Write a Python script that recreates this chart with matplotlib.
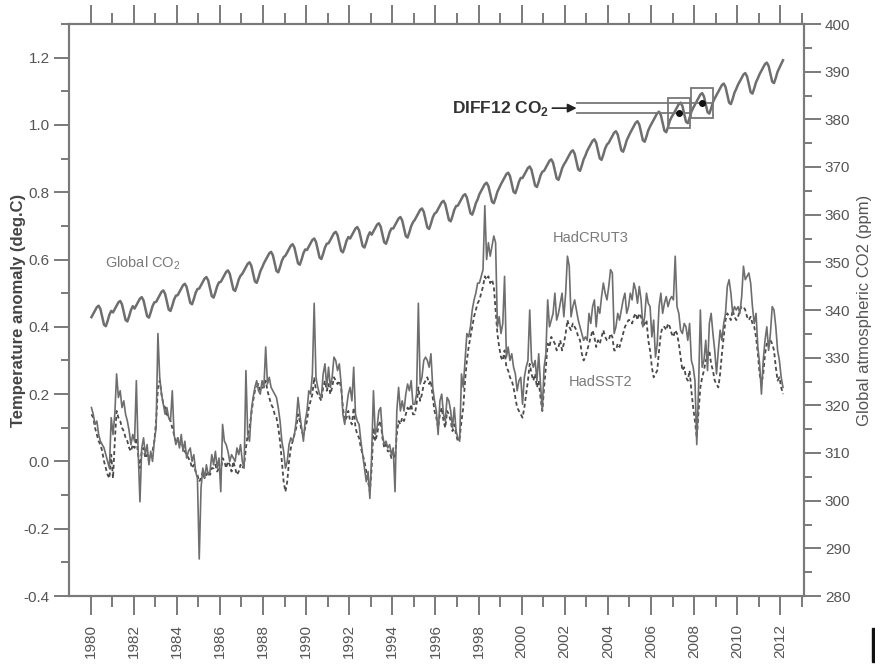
import numpy as np
import matplotlib
matplotlib.use("Agg")
import matplotlib.pyplot as plt
from matplotlib.patches import Rectangle

plt.rcParams['font.family'] = ['Liberation Sans', 'DejaVu Sans']
plt.rcParams['mathtext.fontset'] = 'custom'
plt.rcParams['mathtext.rm'] = 'Liberation Sans'
plt.rcParams['mathtext.bf'] = 'Liberation Sans:bold'

# ---- monthly data, one row per year (Jan..Dec), 1980 .. early 2012 ----
start_year = 1980

hadcrut3 = [
    [0.16, 0.14, 0.11, 0.12, 0.08, 0.06, 0.05, 0.04, 0.02, 0.00, -0.02, 0.13],
    [0.08, 0.14, 0.26, 0.19, 0.21, 0.16, 0.18, 0.14, 0.12, 0.09, 0.05, 0.08],
    [0.06, 0.24, 0.03, -0.12, 0.04, 0.07, 0.02, 0.05, -0.01, 0.03, 0.00, 0.06],
    [0.10, 0.38, 0.25, 0.20, 0.17, 0.14, 0.16, 0.13, 0.12, 0.21, 0.08, 0.05],
    [0.07, 0.04, 0.08, 0.03, 0.06, 0.01, 0.03, 0.04, 0.00, 0.02, -0.03, -0.05],
    [-0.29, -0.08, -0.02, -0.05, -0.01, -0.04, -0.03, 0.02, -0.01, 0.03, -0.02, 0.01],
    [-0.09, 0.11, 0.06, 0.05, 0.03, 0.00, 0.02, 0.01, 0.00, 0.04, 0.02, 0.05],
    [0.00, -0.02, 0.27, 0.08, 0.06, 0.15, 0.19, 0.22, 0.24, 0.21, 0.20, 0.24],
    [0.22, 0.34, 0.23, 0.25, 0.22, 0.21, 0.20, 0.19, 0.16, 0.12, 0.06, 0.03],
    [-0.02, 0.00, 0.05, 0.07, 0.06, 0.08, 0.12, 0.19, 0.14, 0.10, 0.06, 0.12],
    [0.15, 0.21, 0.20, 0.26, 0.47, 0.25, 0.22, 0.20, 0.19, 0.26, 0.29, 0.22],
    [0.28, 0.22, 0.25, 0.31, 0.30, 0.27, 0.29, 0.23, 0.14, 0.11, 0.16, 0.20],
    [0.22, 0.18, 0.28, 0.14, 0.12, 0.11, 0.06, 0.02, -0.02, -0.06, -0.03, -0.11],
    [0.02, 0.21, 0.08, 0.10, 0.15, 0.16, 0.08, 0.05, 0.06, 0.04, 0.05, 0.02],
    [0.04, -0.09, 0.15, 0.22, 0.15, 0.18, 0.15, 0.20, 0.23, 0.21, 0.24, 0.17],
    [0.17, 0.20, 0.47, 0.23, 0.25, 0.30, 0.31, 0.30, 0.28, 0.32, 0.22, 0.18],
    [0.15, 0.08, 0.18, 0.20, 0.14, 0.12, 0.19, 0.18, 0.15, 0.10, 0.16, 0.09],
    [0.07, 0.06, 0.26, 0.22, 0.30, 0.38, 0.37, 0.40, 0.45, 0.48, 0.50, 0.53],
    [0.53, 0.55, 0.57, 0.76, 0.60, 0.65, 0.61, 0.64, 0.67, 0.65, 0.40, 0.43],
    [0.38, 0.41, 0.55, 0.31, 0.34, 0.30, 0.32, 0.28, 0.26, 0.21, 0.24, 0.25],
    [0.17, 0.25, 0.28, 0.30, 0.45, 0.30, 0.28, 0.30, 0.24, 0.32, 0.23, 0.15],
    [0.28, 0.32, 0.48, 0.40, 0.42, 0.44, 0.50, 0.42, 0.44, 0.47, 0.50, 0.43],
    [0.50, 0.61, 0.58, 0.43, 0.46, 0.48, 0.45, 0.42, 0.40, 0.38, 0.36, 0.37],
    [0.36, 0.44, 0.41, 0.46, 0.48, 0.40, 0.46, 0.44, 0.49, 0.53, 0.50, 0.48],
    [0.52, 0.57, 0.56, 0.38, 0.40, 0.44, 0.42, 0.45, 0.48, 0.50, 0.44, 0.46],
    [0.50, 0.48, 0.53, 0.51, 0.47, 0.52, 0.48, 0.40, 0.43, 0.50, 0.47, 0.46],
    [0.37, 0.42, 0.31, 0.35, 0.46, 0.50, 0.44, 0.47, 0.49, 0.46, 0.48, 0.49],
    [0.48, 0.61, 0.46, 0.44, 0.39, 0.38, 0.41, 0.40, 0.36, 0.41, 0.30, 0.28],
    [0.24, 0.05, 0.22, 0.45, 0.28, 0.30, 0.36, 0.27, 0.41, 0.44, 0.38, 0.33],
    [0.26, 0.33, 0.39, 0.36, 0.41, 0.44, 0.52, 0.54, 0.50, 0.44, 0.46, 0.45],
    [0.46, 0.44, 0.49, 0.58, 0.54, 0.55, 0.56, 0.53, 0.46, 0.41, 0.44, 0.34],
    [0.29, 0.20, 0.30, 0.36, 0.40, 0.33, 0.38, 0.46, 0.45, 0.40, 0.33, 0.30],
    [0.25, 0.22],
]

hadsst2 = [
    [0.14, 0.13, 0.10, 0.08, 0.06, 0.05, 0.03, 0.00, -0.02, -0.04, -0.05, 0.02],
    [-0.05, 0.06, 0.15, 0.13, 0.12, 0.10, 0.09, 0.07, 0.06, 0.04, 0.03, 0.05],
    [0.04, 0.07, 0.02, -0.02, 0.03, 0.04, 0.01, 0.02, 0.00, 0.02, 0.03, 0.06],
    [0.12, 0.22, 0.24, 0.20, 0.17, 0.16, 0.14, 0.13, 0.12, 0.10, 0.08, 0.06],
    [0.07, 0.05, 0.06, 0.04, 0.03, 0.02, 0.01, 0.00, -0.02, -0.01, -0.03, -0.04],
    [-0.06, -0.05, -0.03, -0.05, -0.04, -0.03, -0.04, -0.02, -0.02, -0.01, -0.03, -0.02],
    [-0.03, 0.01, 0.00, -0.02, 0.00, -0.01, -0.03, 0.00, -0.02, -0.04, -0.03, -0.01],
    [-0.02, -0.01, 0.04, 0.08, 0.10, 0.14, 0.18, 0.21, 0.22, 0.23, 0.21, 0.22],
    [0.22, 0.24, 0.21, 0.19, 0.17, 0.16, 0.14, 0.13, 0.10, 0.06, 0.00, -0.06],
    [-0.09, -0.06, 0.00, 0.04, 0.06, 0.08, 0.10, 0.14, 0.12, 0.09, 0.08, 0.10],
    [0.12, 0.16, 0.18, 0.20, 0.25, 0.21, 0.20, 0.19, 0.18, 0.22, 0.24, 0.21],
    [0.23, 0.20, 0.22, 0.25, 0.24, 0.23, 0.24, 0.22, 0.16, 0.12, 0.13, 0.15],
    [0.12, 0.11, 0.16, 0.10, 0.08, 0.07, 0.04, 0.02, 0.00, -0.03, -0.06, -0.09],
    [-0.02, 0.10, 0.06, 0.08, 0.11, 0.12, 0.07, 0.04, 0.05, 0.03, 0.03, 0.01],
    [0.02, 0.01, 0.08, 0.12, 0.11, 0.13, 0.12, 0.14, 0.16, 0.15, 0.17, 0.14],
    [0.14, 0.17, 0.22, 0.18, 0.20, 0.23, 0.24, 0.25, 0.23, 0.24, 0.19, 0.15],
    [0.13, 0.10, 0.14, 0.16, 0.12, 0.10, 0.15, 0.14, 0.12, 0.09, 0.11, 0.08],
    [0.06, 0.07, 0.12, 0.16, 0.24, 0.30, 0.34, 0.37, 0.40, 0.43, 0.45, 0.47],
    [0.48, 0.50, 0.52, 0.55, 0.54, 0.55, 0.53, 0.54, 0.52, 0.45, 0.38, 0.34],
    [0.31, 0.30, 0.33, 0.28, 0.27, 0.25, 0.24, 0.22, 0.19, 0.16, 0.15, 0.14],
    [0.13, 0.16, 0.20, 0.24, 0.29, 0.26, 0.24, 0.26, 0.22, 0.24, 0.19, 0.15],
    [0.22, 0.28, 0.35, 0.34, 0.37, 0.36, 0.35, 0.33, 0.34, 0.36, 0.33, 0.35],
    [0.38, 0.42, 0.40, 0.39, 0.41, 0.40, 0.39, 0.37, 0.36, 0.32, 0.30, 0.31],
    [0.33, 0.35, 0.37, 0.39, 0.37, 0.34, 0.36, 0.35, 0.37, 0.39, 0.37, 0.36],
    [0.36, 0.38, 0.37, 0.33, 0.33, 0.35, 0.34, 0.36, 0.38, 0.40, 0.41, 0.42],
    [0.42, 0.41, 0.43, 0.44, 0.42, 0.44, 0.43, 0.40, 0.41, 0.42, 0.36, 0.33],
    [0.28, 0.25, 0.26, 0.27, 0.33, 0.38, 0.40, 0.40, 0.39, 0.41, 0.40, 0.38],
    [0.37, 0.39, 0.38, 0.35, 0.31, 0.27, 0.28, 0.25, 0.24, 0.27, 0.21, 0.16],
    [0.12, 0.07, 0.15, 0.22, 0.25, 0.27, 0.30, 0.31, 0.33, 0.29, 0.27, 0.24],
    [0.23, 0.22, 0.26, 0.32, 0.37, 0.42, 0.44, 0.43, 0.42, 0.45, 0.43, 0.42],
    [0.43, 0.45, 0.46, 0.46, 0.45, 0.43, 0.42, 0.43, 0.41, 0.40, 0.37, 0.32],
    [0.26, 0.23, 0.26, 0.32, 0.35, 0.34, 0.36, 0.35, 0.33, 0.28, 0.24, 0.25],
    [0.22, 0.20],
]

global_co2 = [
    [338.5, 339.2, 339.9, 340.6, 340.9, 340.2, 338.6, 336.9, 336.6, 337.7, 339.0, 339.8],
    [339.5, 340.2, 340.9, 341.6, 341.9, 341.2, 339.6, 337.9, 337.6, 338.7, 340.0, 340.8],
    [340.3, 341.0, 341.7, 342.4, 342.7, 342.0, 340.4, 338.7, 338.4, 339.5, 340.8, 341.6],
    [341.7, 342.4, 343.1, 343.8, 344.1, 343.4, 341.8, 340.1, 339.8, 340.9, 342.2, 343.0],
    [343.1, 343.8, 344.5, 345.2, 345.5, 344.8, 343.2, 341.5, 341.2, 342.3, 343.6, 344.4],
    [344.5, 345.2, 345.9, 346.6, 346.9, 346.2, 344.6, 342.9, 342.6, 343.7, 345.0, 345.8],
    [345.9, 346.6, 347.3, 348.0, 348.3, 347.6, 346.0, 344.3, 344.0, 345.1, 346.4, 347.2],
    [347.6, 348.3, 349.0, 349.7, 350.0, 349.3, 347.7, 346.0, 345.7, 346.8, 348.1, 348.9],
    [349.8, 350.5, 351.2, 351.9, 352.2, 351.5, 349.9, 348.2, 347.9, 349.0, 350.3, 351.1],
    [351.4, 352.1, 352.8, 353.5, 353.8, 353.1, 351.5, 349.8, 349.5, 350.6, 351.9, 352.7],
    [352.6, 353.3, 354.0, 354.7, 355.0, 354.3, 352.7, 351.0, 350.7, 351.8, 353.1, 353.9],
    [354.0, 354.7, 355.4, 356.1, 356.4, 355.7, 354.1, 352.4, 352.1, 353.2, 354.5, 355.3],
    [355.0, 355.7, 356.4, 357.1, 357.4, 356.7, 355.1, 353.4, 353.1, 354.2, 355.5, 356.3],
    [355.8, 356.5, 357.2, 357.9, 358.2, 357.5, 355.9, 354.2, 353.9, 355.0, 356.3, 357.1],
    [357.1, 357.8, 358.5, 359.2, 359.5, 358.8, 357.2, 355.5, 355.2, 356.3, 357.6, 358.4],
    [358.9, 359.6, 360.3, 361.0, 361.3, 360.6, 359.0, 357.3, 357.0, 358.1, 359.4, 360.2],
    [360.5, 361.2, 361.9, 362.6, 362.9, 362.2, 360.6, 358.9, 358.6, 359.7, 361.0, 361.8],
    [361.9, 362.6, 363.3, 364.0, 364.3, 363.6, 362.0, 360.3, 360.0, 361.1, 362.4, 363.2],
    [364.3, 365.0, 365.7, 366.4, 366.7, 366.0, 364.4, 362.7, 362.4, 363.5, 364.8, 365.6],
    [366.4, 367.1, 367.8, 368.5, 368.8, 368.1, 366.5, 364.8, 364.5, 365.6, 366.9, 367.7],
    [367.7, 368.4, 369.1, 369.8, 370.1, 369.4, 367.8, 366.1, 365.8, 366.9, 368.2, 369.0],
    [369.2, 369.9, 370.6, 371.3, 371.6, 370.9, 369.3, 367.6, 367.3, 368.4, 369.7, 370.5],
    [371.1, 371.8, 372.5, 373.2, 373.5, 372.8, 371.2, 369.5, 369.2, 370.3, 371.6, 372.4],
    [373.4, 374.1, 374.8, 375.5, 375.8, 375.1, 373.5, 371.8, 371.5, 372.6, 373.9, 374.7],
    [375.1, 375.8, 376.5, 377.2, 377.5, 376.8, 375.2, 373.5, 373.2, 374.3, 375.6, 376.4],
    [377.2, 377.9, 378.6, 379.3, 379.6, 378.9, 377.3, 375.6, 375.3, 376.4, 377.7, 378.5],
    [379.2, 379.9, 380.6, 381.3, 381.6, 380.9, 379.3, 377.6, 377.3, 378.4, 379.7, 380.5],
    [381.1, 381.8, 382.5, 383.2, 383.5, 382.8, 381.2, 379.5, 379.2, 380.3, 381.6, 382.4],
    [383.1, 383.8, 384.5, 385.2, 385.5, 384.8, 383.2, 381.5, 381.2, 382.3, 383.6, 384.4],
    [385.1, 385.8, 386.5, 387.2, 387.5, 386.8, 385.2, 383.5, 383.2, 384.3, 385.6, 386.4],
    [387.3, 388.0, 388.7, 389.4, 389.7, 389.0, 387.4, 385.7, 385.4, 386.5, 387.8, 388.6],
    [389.5, 390.2, 390.9, 391.6, 391.9, 391.2, 389.6, 387.9, 387.6, 388.7, 390.0, 390.8],
    [391.6, 392.4],
]

# two 12-month windows marked for the DIFF12 illustration
diff12_years = [2007.31, 2008.38]
diff12_co2 = [381.3, 383.4]

year_ticks = list(range(1980, 2013, 2))


def monthly_series(rows):
    t, v = [], []
    for i, row in enumerate(rows):
        for m, val in enumerate(row):
            t.append(start_year + i + (m + 0.5) / 12.0)
            v.append(val)
    return np.array(t), np.array(v)


t_hc, v_hc = monthly_series(hadcrut3)
t_ss, v_ss = monthly_series(hadsst2)
t_co2, v_co2 = monthly_series(global_co2)

LINE = '#6e6e6e'
SPINE = '#7a7a7a'
TEXT = '#555555'

fig = plt.figure(figsize=(8.75, 6.66), dpi=100)
ax = fig.add_axes([69 / 875, 1 - 596 / 666, (804 - 69) / 875, (596 - 24) / 666])
ax2 = ax.twinx()

ax.plot(t_ss, v_ss, color='#4a4a4a', lw=1.3, ls=(0, (2.2, 1.6)), zorder=3)
ax.plot(t_hc, v_hc, color=LINE, lw=1.2, zorder=4)
ax2.plot(t_co2, v_co2, color=LINE, lw=1.8, zorder=4)

ax.set_xlim(1979.0, 2013.1)
ax.set_ylim(-0.4, 1.3)
ax2.set_ylim(280, 400)

ax.set_xticks(year_ticks)
ax.set_xticks(range(1981, 2014, 2), minor=True)
ax.set_xticklabels([str(y) for y in year_ticks], rotation=90)
ax.set_yticks(np.round(np.arange(-0.4, 1.21, 0.2), 1))
ax.set_yticks(np.round(np.arange(-0.3, 1.31, 0.2), 1), minor=True)
ax.set_yticklabels([f'{v:.1f}' for v in np.arange(-0.4, 1.21, 0.2)])
ax2.set_yticks(range(280, 401, 10))
ax2.set_yticks(range(285, 400, 10), minor=True)

ax.tick_params(axis='x', which='both', direction='out', top=True, labeltop=False,
               colors=SPINE, labelcolor=TEXT, labelsize=11, width=1.4, pad=6)
ax.tick_params(axis='x', which='major', length=14)
ax.tick_params(axis='x', which='minor', length=8)
ax.tick_params(axis='y', which='both', direction='out', colors=SPINE,
               labelcolor=TEXT, labelsize=11, width=1.4, pad=3)
ax.tick_params(axis='y', which='major', length=11)
ax.tick_params(axis='y', which='minor', length=6)
ax2.tick_params(axis='y', which='both', direction='out', colors=SPINE,
                labelcolor=TEXT, labelsize=11, width=1.4, pad=3)
ax2.tick_params(axis='y', which='major', length=12)
ax2.tick_params(axis='y', which='minor', length=6)

for a in (ax, ax2):
    for s in a.spines.values():
        s.set_color(SPINE)
        s.set_linewidth(1.5)

ax.set_ylabel('Temperature anomaly (deg.C)', fontsize=12, color='#444444',
              fontweight='bold', labelpad=-2)
ax2.set_ylabel('Global atmospheric CO2 (ppm)', fontsize=12, color='#555555',
               labelpad=5)

# series labels
ax.text(1980.65, 0.59, r'Global CO$_{\mathregular{2}}$', fontsize=10.5,
        color='#7a7a7a', ha='left', va='center')
ax.text(2003.22, 0.664, 'HadCRUT3', fontsize=10.5, color='#7a7a7a',
        ha='center', va='center')
ax.text(2003.64, 0.236, 'HadSST2', fontsize=10.5, color='#7a7a7a',
        ha='center', va='center')

# DIFF12 illustration on the CO2 axis
arrow_start, arrow_end = 2001.42, 2002.55
mid_level = sum(diff12_co2) / 2
ax2.annotate('', xy=(arrow_end, mid_level), xytext=(arrow_start, mid_level),
             arrowprops=dict(arrowstyle='-|>', color='#222222', lw=1.2,
                             mutation_scale=13, shrinkA=0, shrinkB=0))
ax2.text(arrow_start - 0.15, mid_level, r'DIFF12 CO$_{\mathbf{2}}$',
         fontsize=12.5, fontweight='bold', color='#333333',
         ha='right', va='center')
half_w, half_h = 0.5, 3.1
for yr, val in zip(diff12_years, diff12_co2):
    ax2.plot([arrow_end, yr + half_w], [val, val], color='#777777', lw=1.3, zorder=5)
    ax2.add_patch(Rectangle((yr - half_w, val - half_h), 2 * half_w, 2 * half_h,
                            fill=False, edgecolor='#777777', lw=1.3, zorder=5))
    ax2.plot(yr, val, 'o', color='#111111', ms=4, zorder=6)

# small dark mark at the lower right edge of the page
fig.add_artist(Rectangle((872 / 875, 1 - 662 / 666), 3 / 875, 34 / 666,
                         transform=fig.transFigure, color='#111111'))

fig.savefig('out.png', dpi=100)
